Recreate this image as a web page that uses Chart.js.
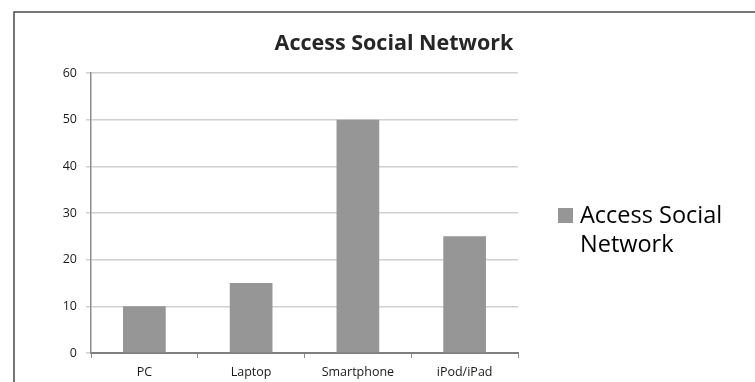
<!DOCTYPE html>
<html>
<head>
<meta charset="utf-8">
<script src="https://cdn.jsdelivr.net/npm/chart.js@4/dist/chart.umd.min.js"></script>
<style>
  html, body { margin: 0; padding: 0; background: #ffffff; }
  #wrap { width: 755px; height: 382px; position: relative; }
</style>
</head>
<body>
<div id="wrap"><canvas id="c" width="755" height="382"></canvas></div>
<script>
const categories = ['PC', 'Laptop', 'Smartphone', 'iPod/iPad'];
const accessValues = [10, 15, 50, 25];
const seriesName = 'Access Social Network';
const yTicks = [0, 10, 20, 30, 40, 50, 60];

const FONT = "'Open Sans', 'Liberation Sans', sans-serif";
const BAR = '#969696';

// Frame, heading and the side key drawn straight onto the canvas
const decorations = {
  id: 'decorations',
  beforeDraw(chart) {
    const ctx = chart.ctx;
    ctx.save();
    ctx.fillStyle = '#ffffff';
    ctx.fillRect(0, 0, chart.width, chart.height);
    ctx.strokeStyle = '#4a4a4a';
    ctx.lineWidth = 1.5;
    ctx.beginPath();
    ctx.moveTo(14, chart.height);
    ctx.lineTo(14, 12);
    ctx.lineTo(chart.width, 12);
    ctx.stroke();
    ctx.restore();
  },
  afterDraw(chart) {
    const ctx = chart.ctx;
    ctx.save();
    // heading
    ctx.fillStyle = '#262626';
    ctx.font = 'bold 21.5px ' + FONT;
    ctx.textAlign = 'center';
    ctx.textBaseline = 'alphabetic';
    ctx.fillText(seriesName, 394, 50);
    // key
    const ds = chart.data.datasets[0];
    ctx.fillStyle = ds.backgroundColor;
    ctx.fillRect(558, 208, 15, 15);
    ctx.fillStyle = '#000000';
    ctx.font = '23.5px ' + FONT;
    ctx.textAlign = 'left';
    const words = ds.label.split(' ');
    ctx.fillText(words.slice(0, 2).join(' '), 580, 223);
    ctx.fillText(words.slice(2).join(' '), 580, 252);
    ctx.restore();
  }
};

new Chart(document.getElementById('c'), {
  type: 'bar',
  data: {
    labels: categories,
    datasets: [{
      label: seriesName,
      data: accessValues,
      backgroundColor: BAR,
      borderWidth: 0,
      barPercentage: 0.4,
      categoryPercentage: 1.0
    }]
  },
  options: {
    responsive: false,
    animation: false,
    layout: { padding: { top: 73, right: 237, bottom: 0, left: 0 } },
    plugins: {
      legend: { display: false },
      title: { display: false },
      tooltip: { enabled: false }
    },
    scales: {
      x: {
        offset: true,
        grid: {
          display: true,
          offset: true,
          drawOnChartArea: false,
          drawTicks: true,
          tickLength: 5,
          color: '#8c8c8c',
          lineWidth: 1
        },
        border: { display: true, color: '#7f7f7f', width: 2 },
        ticks: {
          color: '#1a1a1a',
          font: { family: FONT, size: 12.5 },
          padding: 7,
          maxRotation: 0
        },
        afterFit(scale) { scale.height = 29; }
      },
      y: {
        min: 0,
        max: 60,
        afterBuildTicks(scale) { scale.ticks = yTicks.map(v => ({ value: v })); },
        grid: {
          color: '#d0d0d0',
          lineWidth: 1.5,
          tickLength: 5,
          drawTicks: true
        },
        border: { display: true, color: '#8c8c8c', width: 1.5 },
        ticks: {
          color: '#1a1a1a',
          font: { family: FONT, size: 12.5 },
          padding: 9
        },
        afterFit(scale) { scale.width = 91; }
      }
    }
  },
  plugins: [decorations]
});
</script>
</body>
</html>
